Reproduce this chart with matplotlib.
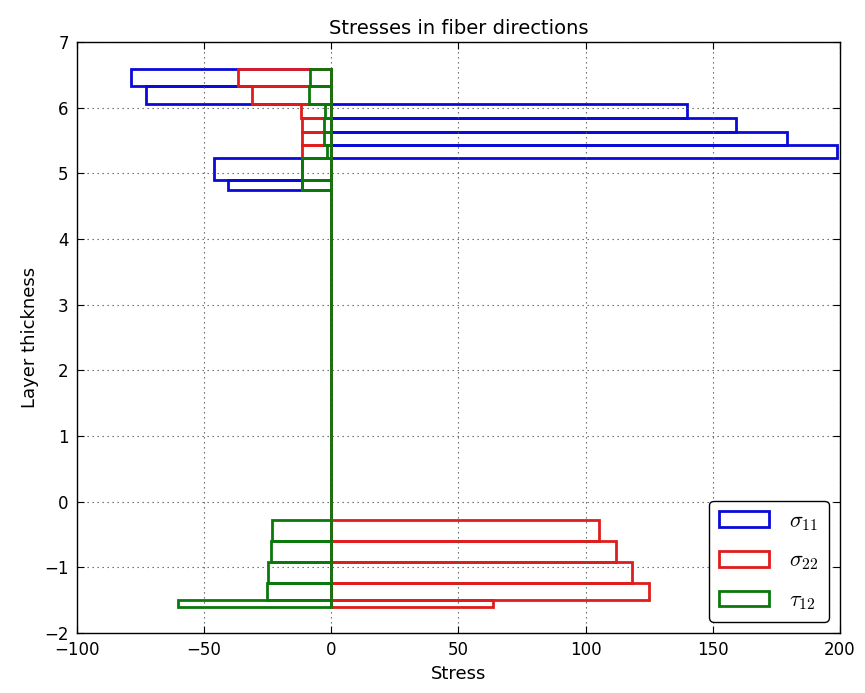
import matplotlib
matplotlib.use("Agg")
import matplotlib.pyplot as plt
from matplotlib.patches import Patch
import numpy as np

plt.rcParams['font.family'] = ['DejaVu Sans']
plt.rcParams['mathtext.fontset'] = 'cm'

# Layer interfaces, from the top surface down
z_interfaces = [6.58, 6.33, 6.06, 5.84, 5.63, 5.43, 5.23, 4.90, 4.75,
                -0.28, -0.60, -0.92, -1.24, -1.50, -1.60]

# Stresses in each layer (top to bottom)
sigma11 = [-78.8, -73.0, 139.8, 159.1, 179.1, 198.7, -46.1, -40.5,
           0.0, 0.0, 0.0, 0.0, 0.0, 0.0]
sigma22 = [-36.6, -31.2, -11.9, -11.6, -11.5, -11.4, -11.4, -11.6,
           0.0, 105.3, 112.0, 118.4, 124.9, 63.7]
tau12 = [-8.4, -8.9, -2.5, -2.7, -2.7, -1.6, -11.4, -11.6,
         0.0, -23.2, -23.7, -24.8, -25.3, -60.2]

series = [(sigma11, '#0a0ad8', r'$\sigma_{11}$'),
          (sigma22, '#e01c1c', r'$\sigma_{22}$'),
          (tau12, '#0a780a', r'$\tau_{12}$')]

z = np.array(z_interfaces)
bottoms = z[1:]
heights = z[:-1] - z[1:]

fig = plt.figure(figsize=(8.65, 6.93), dpi=100)
ax = fig.add_axes([0.089, 0.0866, 0.882, 0.853])

for vals, col, lab in series:
    ax.barh(bottoms, vals, height=heights, align='edge', fill=False,
            edgecolor=col, linewidth=2.0)

ax.set_xlim(-100, 200)
ax.set_ylim(-2, 7)
ax.set_xticks(np.arange(-100, 201, 50))
ax.set_yticks(np.arange(-2, 8, 1))
ax.grid(True, color='0.35', linestyle=(0, (1.2, 3.3)), linewidth=0.8)
ax.tick_params(direction='in', top=True, right=True, labelsize=12,
               length=5, pad=6)
for sp in ax.spines.values():
    sp.set_linewidth(1.0)

ax.set_title('Stresses in fiber directions', fontsize=14)
ax.set_xlabel('Stress', fontsize=13, labelpad=4)
ax.set_ylabel('Layer thickness', fontsize=13)

handles = [Patch(facecolor='white', edgecolor=col, linewidth=2.0, label=lab)
           for _, col, lab in series]
leg = ax.legend(handles=handles, loc='lower right', fontsize=16,
                handlelength=2.25, handleheight=0.7, labelspacing=0.8,
                fancybox=True, framealpha=1.0, edgecolor='black',
                borderpad=0.45, handletextpad=0.9)
leg.get_frame().set_linewidth(1.0)

fig.savefig('out.png', dpi=100)
